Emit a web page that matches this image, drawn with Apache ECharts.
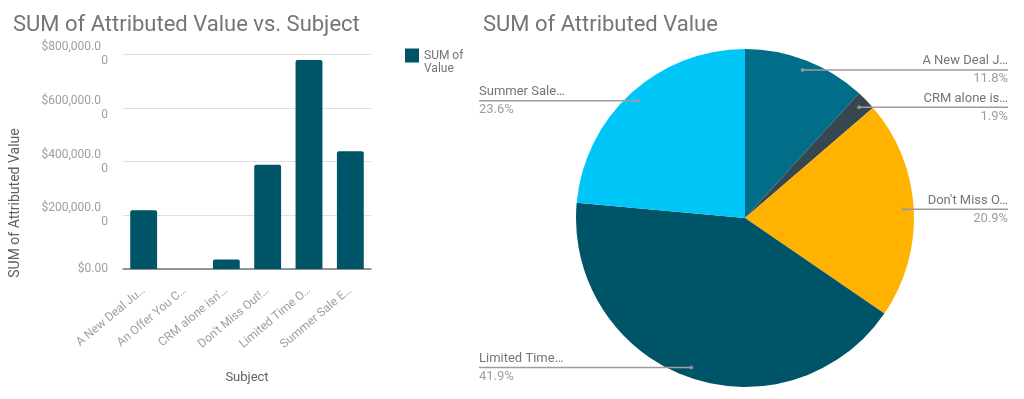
<!DOCTYPE html>
<html>
<head>
<meta charset="utf-8">
<script src="https://cdn.jsdelivr.net/npm/echarts@6/dist/echarts.min.js"></script>
<style>
  html, body { margin: 0; padding: 0; background: #fff; }
  #bar-chart { position: absolute; left: 0; top: 0; width: 463px; height: 399px; }
  #pie-chart { position: absolute; left: 463px; top: 0; width: 561px; height: 399px; }
</style>
</head>
<body>
<div id="bar-chart"></div>
<div id="pie-chart"></div>
<script>
// data
const subjects = ["A New Deal Ju…", "An Offer You C…", "CRM alone isn'…", "Don't Miss Out!…", "Limited Time O…", "Summer Sale E…"];
const pieNames = ["A New Deal J…", "An Offer You…", "CRM alone is…", "Don't Miss O…", "Limited Time…", "Summer Sale…"];
const values = [219000, 0, 35300, 388000, 778000, 438000];
const sliceColors = ["#026d88", "#4b6a78", "#37474f", "#ffb300", "#005468", "#00c6f7"];
const yTicks = [0, 200000, 400000, 600000, 800000];

const FONT = "Roboto";
const BAR_COLOR = "#005468";

// ---------- bar chart ----------
const barChart = echarts.init(document.getElementById("bar-chart"));

const money = (v) => {
  const s = "$" + v.toLocaleString("en-US", { minimumFractionDigits: 2, maximumFractionDigits: 2 });
  // google wraps the long ones: "$800,000.0" / "0"
  return s.length > 10 ? "{a|" + s.slice(0, -1) + "}\n{b|" + s.slice(-1) + "}" : "{b|" + s + "}";
};

barChart.setOption({
  animation: false,
  textStyle: { fontFamily: FONT },
  title: {
    text: "SUM of Attributed Value vs. Subject",
    left: 8,
    top: 9,
    textStyle: { fontSize: 22, fontWeight: "normal", color: "#757575", fontFamily: FONT },
  },
  legend: {
    left: 400,
    top: 31,
    icon: "rect",
    itemWidth: 14,
    itemHeight: 14,
    // empty first line so the wrapped name hangs from the swatch
    formatter: (name) => "\n" + name,
    textStyle: {
      color: "#757575",
      fontSize: 12,
      width: 100,
      overflow: "break",
      lineHeight: 13,
    },
  },
  grid: { left: 123, right: 92, top: 54, bottom: 130 },
  xAxis: {
    type: "category",
    data: subjects,
    name: "Subject",
    nameLocation: "middle",
    nameGap: 102,
    nameTextStyle: { color: "#616161", fontSize: 13 },
    axisLine: { lineStyle: { color: "#757575", width: 1.5 } },
    axisTick: { show: false },
    axisLabel: { rotate: 40, interval: 0, margin: 20, color: "#9e9e9e", fontSize: 12 },
  },
  yAxis: {
    type: "value",
    min: yTicks[0],
    max: yTicks[yTicks.length - 1],
    interval: yTicks[1] - yTicks[0],
    axisLine: { show: false },
    axisTick: { show: false },
    splitLine: { lineStyle: { color: "#e0e0e0", width: 1 } },
    axisLabel: {
      margin: 15,
      color: "#9e9e9e",
      fontSize: 12,
      formatter: money,
      rich: {
        a: { color: "#9e9e9e", fontSize: 12, lineHeight: 14, padding: [0, 7, 0, 0] },
        b: { color: "#9e9e9e", fontSize: 12, lineHeight: 14 },
      },
    },
  },
  graphic: [
    {
      type: "text",
      x: 15,
      y: 203,
      rotation: Math.PI / 2,
      style: {
        text: "SUM of Attributed Value",
        fill: "#616161",
        font: "14px " + FONT,
        textAlign: "center",
        textVerticalAlign: "middle",
      },
    },
  ],
  series: [
    {
      name: "SUM of Attributed Value",
      type: "bar",
      data: values,
      barCategoryGap: "35%",
      itemStyle: { color: BAR_COLOR, borderRadius: [2, 2, 0, 0] },
    },
  ],
});

// ---------- pie chart ----------
const pieChart = echarts.init(document.getElementById("pie-chart"));

const CX = 282;
const CY = 218;
const R = 169;

const pieData = [];
subjects.forEach((s, i) => {
  if (values[i] > 0) {
    pieData.push({ name: pieNames[i], value: values[i], itemStyle: { color: sliceColors[i] } });
  }
});
const total = pieData.reduce((acc, d) => acc + d.value, 0);

// small grey dots where the label lines start (middle of each slice)
let run = 0;
const dotData = pieData.map((d) => {
  const mid = ((run + d.value / 2) / total) * 100;
  run += d.value;
  return [0.94, mid];
});

pieChart.setOption({
  animation: false,
  textStyle: { fontFamily: FONT },
  title: {
    text: "SUM of Attributed Value",
    left: 15,
    top: 9,
    textStyle: { fontSize: 22, fontWeight: "normal", color: "#757575", fontFamily: FONT },
  },
  polar: { center: [CX, CY], radius: R },
  angleAxis: { type: "value", min: 0, max: 100, startAngle: 90, show: false },
  radiusAxis: { type: "value", min: 0, max: 1, show: false },
  series: [
    {
      type: "pie",
      center: [CX, CY],
      radius: R,
      startAngle: 90,
      data: pieData,
      label: { show: false },
      labelLine: { show: false },
      itemStyle: { borderWidth: 0 },
      silent: true,
      z: 1,
    },
    {
      // invisible twin, only carries the labels
      type: "pie",
      center: [CX, CY],
      radius: R * 0.94,
      startAngle: 90,
      data: pieData.map((d) => ({ name: d.name, value: d.value })),
      itemStyle: { color: "rgba(0,0,0,0)" },
      silent: true,
      z: 3,
      label: {
        position: "outside",
        alignTo: "edge",
        edgeDistance: 16,
        formatter: (p) => "{n|" + p.name + "}\n{p|" + ((p.value / total) * 100).toFixed(1) + "%}",
        rich: {
          n: { color: "#757575", fontSize: 13, lineHeight: 18 },
          p: { color: "#9e9e9e", fontSize: 13, lineHeight: 18 },
        },
      },
      labelLine: {
        show: true,
        length: 0,
        length2: 10,
        lineStyle: { color: "#9e9e9e", width: 1.5 },
      },
      labelLayout: (params) => {
        const pts = params.labelLinePoints;
        if (!pts) return {};
        const rect = params.labelRect;
        const onRight = rect.x > pts[0][0];
        const endX = onRight ? rect.x + rect.width : rect.x;
        return { labelLinePoints: [pts[0], pts[1], [endX, pts[2][1]]] };
      },
    },
    {
      type: "scatter",
      coordinateSystem: "polar",
      data: dotData,
      symbolSize: 4,
      itemStyle: { color: "#9e9e9e" },
      silent: true,
      z: 4,
    },
  ],
});
</script>
</body>
</html>
